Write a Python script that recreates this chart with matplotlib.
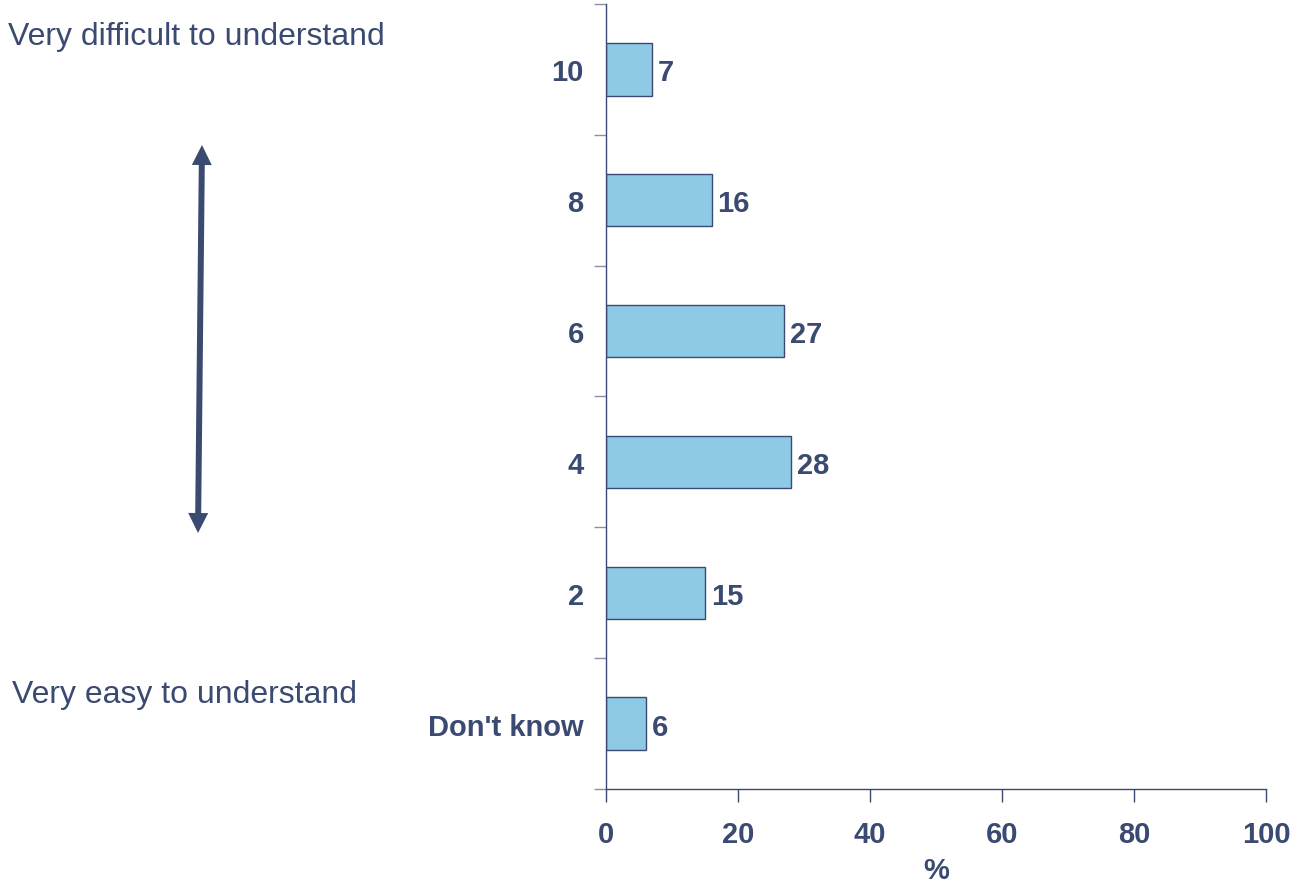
import matplotlib
matplotlib.use("Agg")
import matplotlib.pyplot as plt
from matplotlib.patches import FancyArrow

plt.rcParams['font.family'] = ['Liberation Sans', 'DejaVu Sans']

# ratings, bottom to top
categories = ["Don't know", "2", "4", "6", "8", "10"]
values = [6, 15, 28, 27, 16, 7]
xticks = [0, 20, 40, 60, 80, 100]

navy = '#3a4a70'
bar_fill = '#8ecae6'

W, H = 1297, 887
fig = plt.figure(figsize=(W / 100, H / 100), dpi=100)
ax = fig.add_axes([0.4672, 0.1094, 0.5089, 0.885])

pos = list(range(len(categories)))
ax.barh(pos, values, height=0.4, color=bar_fill, edgecolor=navy, linewidth=1)
for p, v in zip(pos, values):
    ax.text(v + 0.9, p, str(v), va='center_baseline', ha='left', fontsize=21,
            fontweight='bold', color=navy)

ax.set_xlim(0, 100)
ax.set_ylim(-0.5, len(categories) - 0.5)
ax.set_xticks(xticks)
ax.set_xticklabels([str(t) for t in xticks], fontsize=21, fontweight='bold', color=navy)
ax.set_yticks(pos)
ax.set_yticklabels(categories, fontsize=21, fontweight='bold', color=navy)
for lab in ax.get_yticklabels():
    lab.set_verticalalignment('center_baseline')
ax.set_yticks([p - 0.5 for p in pos] + [len(pos) - 0.5], minor=True)
ax.tick_params(axis='y', which='major', length=0, pad=16)
ax.tick_params(axis='y', which='minor', length=9, color='#8890a8', width=1)
ax.tick_params(axis='x', length=9, color=navy, width=1, pad=13)
ax.set_xlabel('%', fontsize=21, fontweight='bold', color=navy, labelpad=6)

for side in ['top', 'right']:
    ax.spines[side].set_visible(False)
for side in ['left', 'bottom']:
    ax.spines[side].set_color(navy)
    ax.spines[side].set_linewidth(1)

# scale direction annotation on the left, drawn in pixel space
ov = fig.add_axes([0, 0, 1, 1], zorder=-1)
ov.set_xlim(0, W)
ov.set_ylim(H, 0)
ov.axis('off')
ov.text(8, 34, 'Very difficult to understand', fontsize=23, color=navy,
        ha='left', va='center_baseline')
ov.text(12, 692, 'Very easy to understand', fontsize=23, color=navy,
        ha='left', va='center_baseline')
mid_x, mid_y = 200, 340
for tip_x, tip_y in [(202, 146), (198, 534)]:
    ov.add_patch(FancyArrow(mid_x, mid_y, tip_x - mid_x, tip_y - mid_y, width=6,
                            head_width=20, head_length=20, length_includes_head=True,
                            color=navy, lw=0))

fig.savefig('out.png', dpi=100)
